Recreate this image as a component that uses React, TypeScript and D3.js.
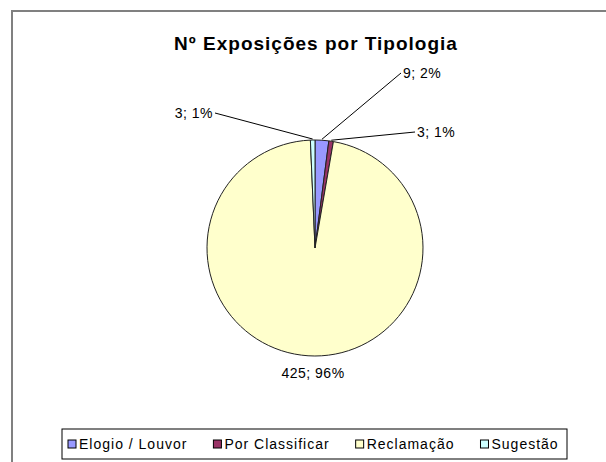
import React, { useEffect, useRef } from "react";
import * as d3 from "d3";

const categories = ["Elogio / Louvor", "Por Classificar", "Reclamação", "Sugestão"];
const counts = [9, 3, 425, 3];
const percents = ["2%", "1%", "96%", "1%"];
const colors = ["#9999FF", "#993366", "#FFFFCC", "#CCFFFF"];

// label anchor offsets from the pie centre
const labelPos = [
  { x: 88, y: -175, anchor: "start" },
  { x: 102, y: -116, anchor: "start" },
  { x: -2, y: 125, anchor: "middle" },
  { x: -102, y: -135, anchor: "end" },
];

const W = 606;
const H = 462;
const FONT = "Liberation Sans, Arial, sans-serif";

export default function App() {
  const ref = useRef<SVGSVGElement>(null);

  useEffect(() => {
    const svg = d3.select(ref.current);
    svg.selectAll("*").remove();

    // chart frame
    svg
      .append("rect")
      .attr("x", 12)
      .attr("y", 11)
      .attr("width", 620)
      .attr("height", 470)
      .attr("fill", "#fff")
      .attr("stroke", "#808080")
      .attr("stroke-width", 2);

    svg
      .append("text")
      .attr("x", 316)
      .attr("y", 50)
      .attr("text-anchor", "middle")
      .style("font-family", FONT)
      .style("font-size", "19px")
      .style("font-weight", "bold")
      .style("letter-spacing", "1px")
      .text("Nº Exposições por Tipologia");

    const cx = 315;
    const cy = 248;
    const r = 108;

    const data = categories.map((c, i) => ({ c, v: counts[i], p: percents[i], i }));
    const pie = d3.pie<any>().sort(null).value((d) => d.v);
    const arcs = pie(data);
    const arc = d3.arc<any>().innerRadius(0).outerRadius(r);

    const g = svg.append("g").attr("transform", `translate(${cx},${cy})`);
    g.selectAll("path")
      .data(arcs)
      .join("path")
      .attr("d", arc)
      .attr("fill", (d) => colors[d.data.i])
      .attr("stroke", "#222")
      .attr("stroke-width", 1)
      .attr("stroke-linejoin", "round");

    // leader lines and labels
    arcs.forEach((d) => {
      const lp = labelPos[d.data.i];
      const mid = (d.startAngle + d.endAngle) / 2;
      const ex = Math.sin(mid) * (r + 1);
      const ey = -Math.cos(mid) * (r + 1);
      const txt = `${d.data.v}; ${d.data.p}`;
      if (d.data.i !== 2) {
        const lx = lp.anchor === "end" ? lp.x + 2 : lp.x - 2;
        g.append("line")
          .attr("x1", ex)
          .attr("y1", ey)
          .attr("x2", lx)
          .attr("y2", lp.y)
          .attr("stroke", "#000")
          .attr("stroke-width", 1);
      }
      g.append("text")
        .attr("x", lp.x)
        .attr("y", lp.y)
        .attr("dy", "0.35em")
        .attr("text-anchor", lp.anchor)
        .style("font-family", FONT)
        .style("font-size", "14px")
        .style("letter-spacing", "0.5px")
        .text(txt);
    });

    // legend
    const lg = svg.append("g").attr("transform", "translate(62,429)");
    lg.append("rect")
      .attr("width", 505)
      .attr("height", 30)
      .attr("fill", "#fff")
      .attr("stroke", "#000")
      .attr("stroke-width", 1);
    let x = 6;
    categories.forEach((c, i) => {
      const it = lg.append("g").attr("transform", `translate(${x},11)`);
      it.append("rect")
        .attr("width", 8)
        .attr("height", 8)
        .attr("fill", colors[i])
        .attr("stroke", "#000")
        .attr("stroke-width", 1);
      const t = it
        .append("text")
        .attr("x", 11)
        .attr("y", 4)
        .attr("dy", "0.35em")
        .style("font-family", FONT)
        .style("font-size", "14px")
        .style("letter-spacing", "1px")
        .text(c);
      const w = (t.node() as SVGTextElement).getComputedTextLength();
      x += 11 + w + 26;
    });
  }, []);

  return (
    <svg
      ref={ref}
      width={W}
      height={H}
      style={{ position: "absolute", left: 0, top: 0, background: "#fff" }}
    />
  );
}
